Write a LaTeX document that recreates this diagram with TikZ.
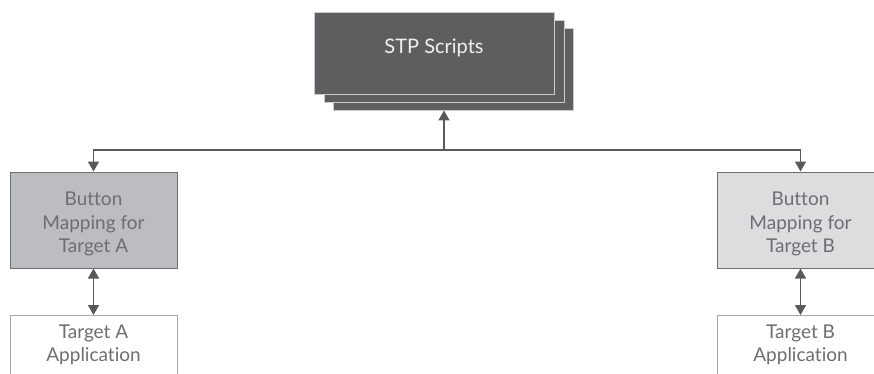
\documentclass[tikz,border=0pt]{standalone}
\usepackage{fontspec}
\setmainfont{Lato}[Ligatures=NoCommon]
\usetikzlibrary{arrows.meta,positioning}
\definecolor{ink}{HTML}{58595B}
\definecolor{txt}{HTML}{6D6E71}
\definecolor{stackfill}{HTML}{5E5E60}
\definecolor{mapAfill}{HTML}{BCBDC0}
\definecolor{mapBfill}{HTML}{DCDDDF}
\tikzset{
  conn/.style={draw=ink, line width=1.4pt},
  tip/.style={-{Triangle[length=10pt,width=11pt]}},
  both/.style={{Triangle[length=10pt,width=11pt]}-{Triangle[length=10pt,width=11pt]}},
  sheet/.style={draw=white!80!black, line width=0.8pt, fill=stackfill,
    minimum width=240pt, minimum height=82pt, inner sep=0pt},
  mapbox/.style={draw=txt, line width=1pt, minimum width=167pt, minimum height=96pt,
    inner sep=0pt},
  maplabel/.style={align=center, text=txt, font=\fontsize{19}{23.5}\selectfont, inner sep=0pt},
  appbox/.style={draw=gray!70, line width=1pt, fill=white, minimum width=167pt,
    minimum height=100pt, anchor=north, inner sep=0pt},
  applabel/.style={align=center, text=txt, font=\fontsize{19}{22.5}\selectfont,
    anchor=north, inner sep=0pt}
}
\begin{document}
\begin{tikzpicture}[x=1pt,y=-1pt]
\useasboundingbox (0,0) rectangle (874,373);
\clip (0,0) rectangle (874,373);
\fill[white] (0,0) rectangle (874,373);

% stacked script sheets, back to front
\node[sheet] (stp3) at (453,69) {};
\node[sheet] (stp2) at (444,61) {};
\node[sheet] (stp1) at (434,53) {};
\node[text=white!94!black, font=\fontsize{20}{24}\selectfont, inner sep=0pt]
  (stptext) at ([yshift=5pt]stp1.center) {STP Scripts};

% button mapping boxes
\node[mapbox, fill=mapAfill] (mapA) at (93.5,220) {};
\node[maplabel] (mapAtext) at ([yshift=-4pt]mapA.center) {Button\\Mapping for\\Target A};
\node[mapbox, fill=mapBfill] (mapB) at (800.5,220) {};
\node[maplabel] (mapBtext) at ([yshift=-4pt]mapB.center) {Button\\Mapping for\\Target B};

% target applications
\node[appbox] (appA) at (93.5,315) {};
\node[applabel] (appAtext) at ([yshift=-10pt]appA.north) {Target A\\Application};
\node[appbox] (appB) at (800.5,315) {};
\node[applabel] (appBtext) at ([yshift=-10pt]appB.north) {Target B\\Application};

% distribution bus
\coordinate (hub) at (444,150);
\draw[conn, tip] (hub) -- (hub |- stp3.south);
\draw[conn, tip] (hub) -| (mapA.north);
\draw[conn, tip] (hub) -| (mapB.north);

% two-way links
\draw[conn, both] (mapA.south) -- (appA.north);
\draw[conn, both] (mapB.south) -- (appB.north);
\end{tikzpicture}
\end{document}
